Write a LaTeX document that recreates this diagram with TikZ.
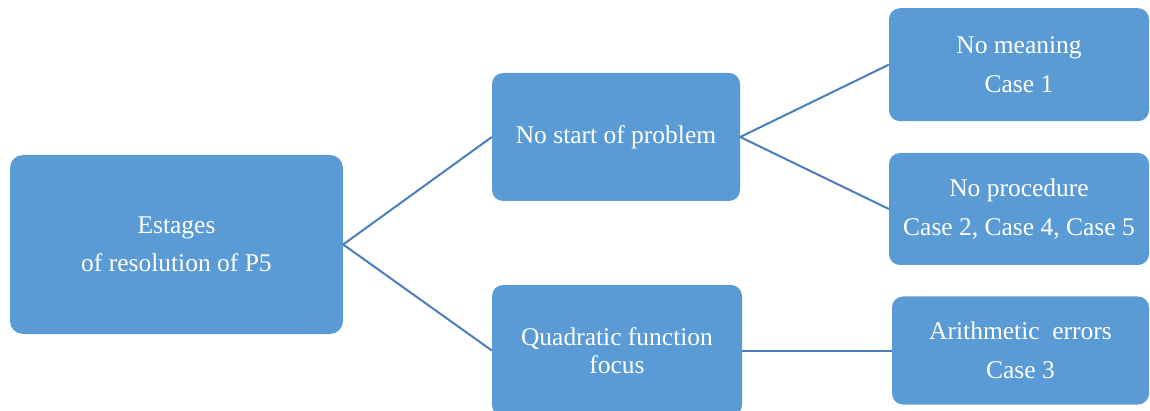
\documentclass[tikz,border=0pt]{standalone}
\usepackage{fontspec}
\setmainfont{Liberation Serif}
\definecolor{boxblue}{HTML}{5B9BD5}
\definecolor{linkblue}{HTML}{4A7EBB}
\begin{document}
\begin{tikzpicture}[x=1pt,y=-1pt,
  stagebox/.style={draw=none, fill=boxblue, rounded corners=11pt, text=white,
    align=center, inner sep=0pt, font=\fontsize{25.5}{38.5}\selectfont},
  link/.style={draw=linkblue, line width=2pt}]
\useasboundingbox (0,0) rectangle (1150,411);
\clip (0,0) rectangle (1150,411);
% root of the tree
\node[stagebox, minimum width=333pt, minimum height=179pt, rounded corners=13pt]
  (root) at (176.5,244.5) {Estages\\of resolution of P5};
% second level
\node[stagebox, minimum width=248pt, minimum height=128pt]
  (nostart) at (616,137) {No start of problem};
\node[stagebox, minimum width=250pt, minimum height=131pt,
  font=\fontsize{25.5}{28}\selectfont]
  (quad) at (617,350.5) {Quadratic function\\focus};
% third level
\node[stagebox, minimum width=260pt, minimum height=113pt]
  (meaning) at (1019,64.7) {No meaning\\Case 1};
\node[stagebox, minimum width=260pt, minimum height=112pt]
  (proc) at (1019,209) {No procedure\\Case 2, Case 4, Case 5};
\node[stagebox, minimum width=257pt, minimum height=108pt]
  (arith) at (1020.5,350.5) {Arithmetic\ \ errors\\Case 3};
% connectors
\draw[link] (root.east) -- (nostart.west);
\draw[link] (root.east) -- (quad.west);
\draw[link] (nostart.east) -- (meaning.west);
\draw[link] (nostart.east) -- (proc.west);
\draw[link] (quad.east) -- (arith.west);
\end{tikzpicture}
\end{document}
